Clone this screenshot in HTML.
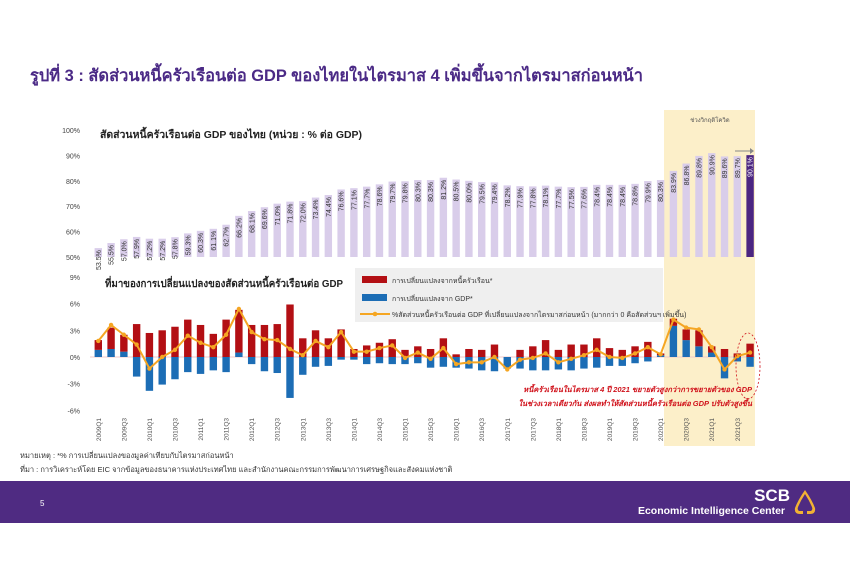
<!DOCTYPE html>
<html><head><meta charset="utf-8"><style>
html,body{margin:0;padding:0;background:#fff;width:850px;height:565px;overflow:hidden}
svg{display:block;font-family:"Liberation Sans","Noto Sans CJK SC",sans-serif}
</style></head><body>
<svg id="s" width="850" height="565" viewBox="0 0 850 565" xmlns="http://www.w3.org/2000/svg">
<rect x="664" y="110" width="91" height="336" fill="#fcefc9"/>
<text x="30" y="81" font-size="16.5" font-weight="bold" fill="#4b2a86" textLength="613" lengthAdjust="spacingAndGlyphs">รูปที่ 3 : สัดส่วนหนี้ครัวเรือนต่อ GDP ของไทยในไตรมาส 4 เพิ่มขึ้นจากไตรมาสก่อนหน้า</text>
<text x="100" y="138" font-size="10.5" font-weight="bold" fill="#222" textLength="262" lengthAdjust="spacingAndGlyphs">สัดส่วนหนี้ครัวเรือนต่อ GDP ของไทย (หน่วย : % ต่อ GDP)</text>
<text x="105" y="287" font-size="10.5" font-weight="bold" fill="#222" textLength="238" lengthAdjust="spacingAndGlyphs">ที่มาของการเปลี่ยนแปลงของสัดส่วนหนี้ครัวเรือนต่อ  GDP</text>
<text x="710" y="122" font-size="6" fill="#555" text-anchor="middle">ช่วงวิกฤติโควิด</text>
<line x1="735" y1="151" x2="750" y2="151" stroke="#888" stroke-width="1"/>
<polygon points="750,148 754,151 750,154" fill="#888"/>
<rect x="355" y="268" width="308" height="54" fill="#efefef"/>
<rect x="362" y="276" width="25" height="7" fill="#b30f14"/>
<text x="392" y="283" font-size="7" fill="#333">การเปลี่ยนแปลงจากหนี้ครัวเรือน*</text>
<rect x="362" y="294" width="25" height="7" fill="#1c6db5"/>
<text x="392" y="301" font-size="7" fill="#333">การเปลี่ยนแปลงจาก GDP*</text>
<line x1="360" y1="314" x2="390" y2="314" stroke="#f5a623" stroke-width="2"/>
<circle cx="375" cy="314" r="2.3" fill="#f5a623"/>
<text x="392" y="317" font-size="7" fill="#333">%สัดส่วนหนี้ครัวเรือนต่อ GDP ที่เปลี่ยนแปลงจากไตรมาสก่อนหน้า (มากกว่า 0 คือสัดส่วนฯ เพิ่มขึ้น)</text>
<g id="g"></g>
<text x="752" y="392" font-size="7.5" font-style="italic" font-weight="bold" fill="#d0121b" text-anchor="end">หนี้ครัวเรือนในไตรมาส 4 ปี 2021 ขยายตัวสูงกว่าการขยายตัวของ  GDP</text>
<text x="752" y="406" font-size="7.5" font-style="italic" font-weight="bold" fill="#d0121b" text-anchor="end">ในช่วงเวลาเดียวกัน ส่งผลทำให้สัดส่วนหนี้ครัวเรือนต่อ GDP ปรับตัวสูงขึ้น</text>
<ellipse cx="748" cy="366" rx="12" ry="33" fill="none" stroke="#d0121b" stroke-width="0.8" stroke-dasharray="2,2"/>
<text x="20" y="458" font-size="7.5" fill="#333">หมายเหตุ : *% การเปลี่ยนแปลงของมูลค่าเทียบกับไตรมาสก่อนหน้า</text>
<text x="20" y="472" font-size="7.5" fill="#333">ที่มา : การวิเคราะห์โดย EIC จากข้อมูลของธนาคารแห่งประเทศไทย และสำนักงานคณะกรรมการพัฒนาการเศรษฐกิจและสังคมแห่งชาติ</text>
<rect x="0" y="481" width="850" height="42" fill="#4f2b82"/>
<text x="40" y="506" font-size="8" fill="#fff">5</text>
<text x="790" y="501" font-size="17" font-weight="bold" fill="#fff" text-anchor="end">SCB</text>
<text x="785" y="514" font-size="10.5" font-weight="bold" fill="#fff" text-anchor="end">Economic Intelligence Center</text>
<path d="M805,490 Q798,500 795,508 Q794,514 800,514 L803,514 L803,511 L799,511 Q797,510 798,507 Q801,500 805,494 Q809,500 812,507 Q813,510 811,511 L807,511 L807,514 L810,514 Q816,514 815,508 Q812,500 805,490Z" fill="#f2b233"/>
</svg>
<script>
var g=document.getElementById('g'),h='';
var r=[53.5,55.5,57.0,57.9,57.2,57.2,57.8,59.3,60.3,61.1,62.7,66.2,68.1,69.6,71.0,71.8,72.0,73.4,74.4,76.6,77.1,77.7,78.6,79.7,79.8,80.3,80.3,81.2,80.5,80.0,79.5,79.4,78.2,77.9,77.8,78.1,77.7,77.5,77.6,78.4,78.4,78.4,78.8,79.9,80.3,83.9,86.8,89.8,90.9,89.6,89.7,90.1];
var d=[[0.8,1.1,1.8],[0.9,2.4,3.6],[0.6,1.9,2.5],[-2.2,3.7,1.4],[-3.8,2.7,-1.3],[-3.1,3.0,0],[-2.5,3.4,0.8],[-1.7,4.2,2.4],[-1.9,3.6,1.6],[-1.5,2.6,1.1],[-1.7,4.2,2.5],[0.5,4.8,5.4],[-0.8,3.6,2.8],[-1.6,3.6,2.0],[-1.8,3.7,1.9],[-4.6,5.9,0.9],[-2.0,2.1,0.2],[-1.1,3.0,1.8],[-1.0,2.1,1.1],[-0.3,3.1,2.8],[-0.3,0.9,0.6],[-0.8,1.3,0.6],[-0.7,1.6,1.0],[-0.8,2.0,1.3],[-0.8,0.8,-0.1],[-0.7,1.2,0.5],[-1.2,0.9,-0.2],[-1.1,2.1,1.0],[-1.2,0.3,-0.8],[-1.3,0.9,-0.6],[-1.5,0.8,-0.6],[-1.6,1.4,0.0],[-1.3,0,-1.4],[-1.3,0.8,-0.3],[-1.5,1.2,-0.1],[-1.5,1.9,0.4],[-1.4,0.8,-0.6],[-1.5,1.4,-0.2],[-1.3,1.4,0.2],[-1.2,2.1,0.8],[-1.0,1.0,0.0],[-1.0,0.8,-0.1],[-0.7,1.2,0.4],[-0.5,1.7,1.1],[0.2,0.2,0.3],[3.5,0.8,4.2],[1.9,1.2,3.3],[1.2,1.8,3.1],[0.5,0.7,1.1],[-2.4,0.9,-1.4],[-0.5,0.4,0.1],[-1.1,1.5,0.5]];
function X(i){return 98.3+12.78*i}
['100%','90%','80%','70%','60%','50%'].forEach(function(t,k){h+='<text x="80" y="'+(133+k*25.4)+'" font-size="7" fill="#444" text-anchor="end">'+t+'</text>'});
r.forEach(function(v,i){var top=257-(v-50)*2.54,x=X(i),last=i==51;
h+='<rect x="'+(x-3.7)+'" y="'+top+'" width="7.4" height="'+(257-top)+'" fill="'+(last?'#4b2581':'#d9cdea')+'"/>';
h+='<text transform="translate('+(x+2.6)+','+(top+2)+') rotate(-90)" font-size="7" text-anchor="end" fill="'+(last?'#fff':'#333')+'">'+v.toFixed(1)+'%</text>'});
var Z=357,S=8.9;
['9%','6%','3%','0%','-3%','-6%'].forEach(function(t,k){h+='<text x="80" y="'+(Z+3-(9-3*k)*S)+'" font-size="7" fill="#444" text-anchor="end">'+t+'</text>'});
h+='<line x1="90" y1="'+Z+'" x2="755" y2="'+Z+'" stroke="#f0c8c8" stroke-width="1"/>';
var pts=[];
d.forEach(function(a,i){var x=X(i),b=a[0],rr=a[1];
if(b>=0){h+='<rect x="'+(x-3.7)+'" y="'+(Z-b*S)+'" width="7.4" height="'+(b*S)+'" fill="#1c6db5"/>';
h+='<rect x="'+(x-3.7)+'" y="'+(Z-(b+rr)*S)+'" width="7.4" height="'+(rr*S)+'" fill="#b30f14"/>';}
else{h+='<rect x="'+(x-3.7)+'" y="'+Z+'" width="7.4" height="'+(-b*S)+'" fill="#1c6db5"/>';
h+='<rect x="'+(x-3.7)+'" y="'+(Z-rr*S)+'" width="7.4" height="'+(rr*S)+'" fill="#b30f14"/>';}
pts.push(x+','+(Z-a[2]*S));
if(i%2==0){var yr=2009+Math.floor(i/4),q=i%4+1;h+='<text transform="translate('+(x+2.5)+',418) rotate(-90)" font-size="6.5" fill="#555" text-anchor="end">'+yr+'Q'+q+'</text>';}});
h+='<polyline points="'+pts.join(' ')+'" fill="none" stroke="#f5a623" stroke-width="2"/>';
pts.forEach(function(p){var c=p.split(',');h+='<circle cx="'+c[0]+'" cy="'+c[1]+'" r="2.2" fill="#f5a623"/>'});
g.innerHTML=h;
</script>
</body></html>
